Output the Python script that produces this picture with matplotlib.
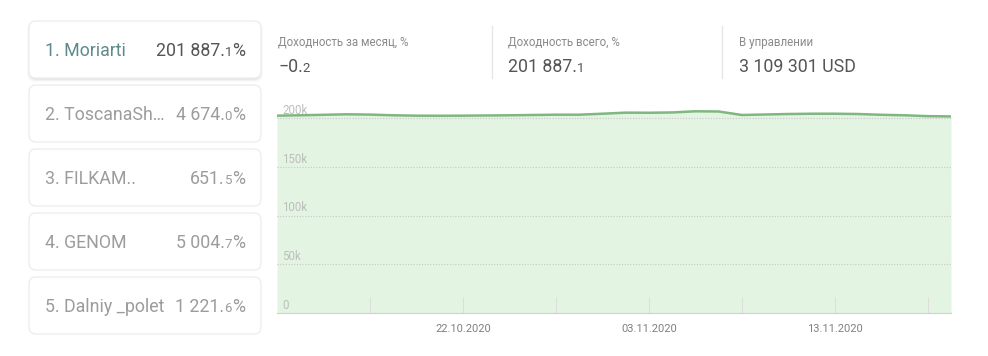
import matplotlib
matplotlib.use("Agg")
import matplotlib.pyplot as plt
from matplotlib.patches import FancyBboxPatch
from matplotlib.transforms import blended_transform_factory

plt.rcParams['font.family'] = ['Roboto', 'DejaVu Sans']

# leaderboard
names = ["Moriarti", "ToscanaSh\u2026", "FILKAM..", "GENOM", "Dalniy _polet"]
returns = [201887.1, 4674.0, 651.5, 5004.7, 1221.6]

# header stats
month_return = -0.2
total_return = 201887.1
aum_usd = 3109301

# chart: one point per trading day
dates = ["12.10.2020", "13.10.2020", "14.10.2020", "15.10.2020", "16.10.2020",
         "19.10.2020", "20.10.2020", "21.10.2020", "22.10.2020", "23.10.2020",
         "26.10.2020", "27.10.2020", "28.10.2020", "29.10.2020", "30.10.2020",
         "02.11.2020", "03.11.2020", "04.11.2020", "05.11.2020", "06.11.2020",
         "09.11.2020", "10.11.2020", "11.11.2020", "12.11.2020", "13.11.2020",
         "16.11.2020", "17.11.2020", "18.11.2020", "19.11.2020", "20.11.2020"]
values = [202700, 203100, 203600, 204100, 203800, 203100, 202700, 202600, 202700, 202900,
          203100, 203400, 203700, 203700, 204700, 205800, 205700, 206000, 207200, 207000,
          203400, 203900, 204400, 204700, 204700, 204400, 203600, 203100, 202200, 201900]
ytick_vals = [0, 50000, 100000, 150000, 200000]
ytick_labels = ["0", "50k", "100k", "150k", "200k"]
xtick_idx = list(range(4, len(dates), 4))
xlabel_idx = [8, 16, 24]


def fmt(v):
    s = f"{v:,.1f}".replace(",", " ").replace("-", "\u2212")
    return s[:-1], s[-1]


W, H = 988, 356
fig = plt.figure(figsize=(W / 100, H / 100), dpi=100)
bg = fig.add_axes([0, 0, 1, 1])
bg.set_xlim(0, W)
bg.set_ylim(H, 0)
bg.axis("off")
fig.canvas.draw()
renderer = fig.canvas.get_renderer()


def split_text(x, y, parts, ha="left"):
    # parts: list of (text, size, color), drawn side by side
    cx = x
    seq = parts if ha == "left" else list(reversed(parts))
    for t, size, color in seq:
        tx = bg.text(cx, y, t, fontsize=size, color=color, ha=ha, va="baseline")
        w = tx.get_window_extent(renderer).width
        cx = cx + w if ha == "left" else cx - w


# cards
card_tops = [21, 85, 149, 213, 277]
for i, (name, val) in enumerate(zip(names, returns)):
    top = card_tops[i]
    if i == 0:
        for k, a in enumerate([0.02, 0.03, 0.04]):
            off = 3 - k
            bg.add_patch(FancyBboxPatch((29 - off + 1, top - off + 3), 232 + 2 * off - 2, 57 + 2 * off - 2,
                                        boxstyle="round,pad=0,rounding_size=8",
                                        fc="black", ec="none", alpha=a))
    bg.add_patch(FancyBboxPatch((29, top), 232, 57, boxstyle="round,pad=0,rounding_size=7",
                                fc="white", ec="#ececec", lw=0.9))
    name_col = "#5e8a8c" if i == 0 else "#9c9c9c"
    val_col = "#555555" if i == 0 else "#9c9c9c"
    base = top + 34.5
    bg.text(45, base, f"{i + 1}. {name}", fontsize=12.8, color=name_col, ha="left",
            va="baseline")
    main, dec = fmt(val)
    split_text(245, base, [(main, 12.8, val_col), (dec, 9.5, val_col), ("%", 12.8, val_col)], ha="right")

# header
hdr_x = [278, 508, 739]
labels = ["Доходность за месяц, %", "Доходность всего, %", "В управлении"]
for x, lab in zip(hdr_x, labels):
    bg.text(x, 46, lab, fontsize=8.3, color="#8a8a8a", ha="left", va="baseline")
m_main, m_dec = fmt(month_return)
split_text(278, 72, [(m_main, 12.8, "#555555"), (m_dec, 9.5, "#555555")])
t_main, t_dec = fmt(total_return)
split_text(508, 72, [(t_main, 12.8, "#555555"), (t_dec, 9.5, "#555555")])
bg.text(739, 72, f"{aum_usd:,} USD".replace(",", " "), fontsize=12.8, color="#555555",
        ha="left", va="baseline")
for x in [492, 722]:
    bg.plot([x, x], [26, 78], color="#e6e6e6", lw=1)

# chart
ax = fig.add_axes([277 / W, 1 - 313 / H, (951 - 277) / W, (313 - 100) / H])
ax.patch.set_alpha(0)
xs = list(range(len(values)))
ax.fill_between(xs, values, 0, color="#e3f4e3", lw=0, zorder=1)
ax.plot(xs, values, color="#80b680", lw=1.8, zorder=3, solid_joinstyle="round")
ax.set_xlim(0, len(values) - 1)
ax.set_ylim(0, 218800)
for s in ["top", "right", "left"]:
    ax.spines[s].set_visible(False)
ax.spines["bottom"].set_color("#d0d0d0")
ax.spines["bottom"].set_linestyle((0, (1, 1)))
ax.spines["bottom"].set_linewidth(0.8)
ax.set_yticks([])
trans = blended_transform_factory(ax.transAxes, ax.transData)
for v, lab in zip(ytick_vals, ytick_labels):
    if v > 0:
        ax.axhline(v, color="#c8c8c8", lw=0.8, ls=(0, (1, 1.5)), zorder=2)
    ax.text(0.008, v + 1500, lab, transform=trans, fontsize=8.3, color="#bdbdbd",
            ha="left", va="bottom", zorder=2)
ax.set_xticks(xtick_idx)
ax.set_xticklabels([dates[i] if i in xlabel_idx else "" for i in xtick_idx])
ax.tick_params(axis="x", direction="in", length=11.5, width=0.7, color="#dddddd",
               labelsize=8, labelcolor="#808080", pad=8)

fig.savefig("out.png", dpi=100)
